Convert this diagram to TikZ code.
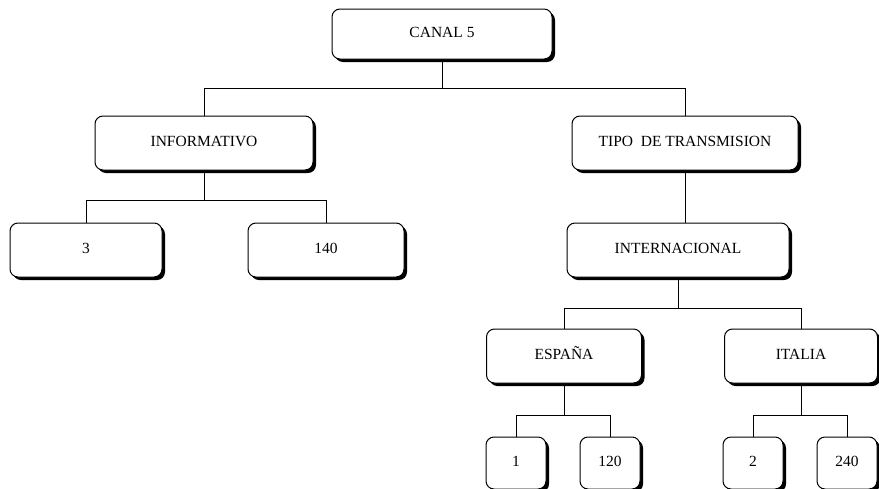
\documentclass[tikz,border=0pt]{standalone}
\usepackage{fontspec}
\setmainfont{Liberation Serif}
\usetikzlibrary{positioning,shadows}

\begin{document}
\begin{tikzpicture}[
  x=1pt, y=1pt,
  box/.style={draw, line width=1pt, rounded corners=8pt, fill=white, minimum height=54pt, align=center,
    text height=10.5pt, text depth=3pt, font=\fontsize{15.5}{18}\selectfont,
    drop shadow={shadow xshift=3pt, shadow yshift=-3pt, fill=black, opacity=1}},
  leaf/.style={box, minimum width=60pt, minimum height=52pt},
  link/.style={line width=0.8pt},
]
\useasboundingbox (0,0) rectangle (879,-488);

\node[box, minimum width=220pt, minimum height=50pt] (canal) at (442,-34) {CANAL 5};
\node[box, minimum width=218pt, below=56pt of canal, xshift=-238pt] (info) {INFORMATIVO};
\node[box, minimum width=226pt, right=258pt of info] (tipo) {TIPO~ DE TRANSMISION};
\node[box, minimum width=152pt, below=52pt of info, xshift=-118pt] (tres) {3};
\node[box, minimum width=156pt, right=85pt of tres] (c140) {140};
\node[box, minimum width=222pt, below=52pt of tipo, xshift=-7pt] (inter) {INTERNACIONAL};
\node[box, minimum width=155pt, below=51pt of inter, xshift=-114pt] (espana) {ESPAÑA};
\node[box, minimum width=153pt, right=82pt of espana] (italia) {ITALIA};
\node[leaf, below=53pt of espana, xshift=-48pt] (uno) {1};
\node[leaf, right=33pt of uno] (c120) {120};
\node[leaf, below=53pt of italia, xshift=-48pt] (dos) {2};
\node[leaf, right=33pt of dos] (c240) {240};

% branches
\draw[link] (canal.south) -- ++(0,-29) coordinate (j1);
\draw[link] (info.north) |- (j1) -| (tipo.north);
\draw[link] (info.south) -- ++(0,-30) coordinate (j2);
\draw[link] (tres.north) |- (j2) -| (c140.north);
\draw[link] (tipo.south) -- (tipo.south |- inter.north);
\draw[link] (inter.south) -- ++(0,-31) coordinate (j3);
\draw[link] (espana.north) |- (j3) -| (italia.north);
\draw[link] (espana.south) -- ++(0,-32) coordinate (j4);
\draw[link] (uno.north) |- (j4) -| (c120.north);
\draw[link] (italia.south) -- ++(0,-32) coordinate (j5);
\draw[link] (dos.north) |- (j5) -| (c240.north);
\end{tikzpicture}
\end{document}
